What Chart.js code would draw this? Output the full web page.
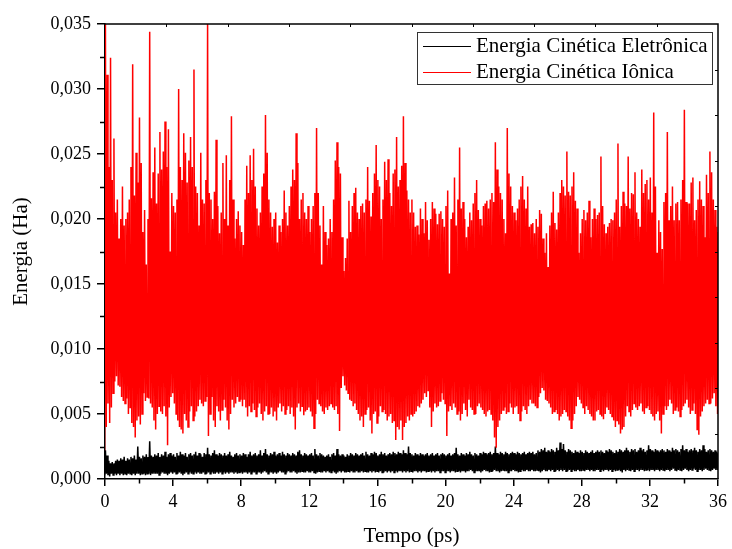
<!DOCTYPE html>
<html><head><meta charset="utf-8">
<script src="https://cdn.jsdelivr.net/npm/chart.js@4.4.0/dist/chart.umd.min.js"></script>
<style>html,body{margin:0;padding:0;background:#fff;}#wrap{width:732px;height:549px;position:relative;}</style>
</head><body><div id="wrap"><canvas id="c" width="732" height="549"></canvas></div>
<script>
// ---------------- data ----------------
const seriesLabels = ['Energia Cinética Eletrônica', 'Energia Cinética Iônica'];
const xTickLabels = [0, 4, 8, 12, 16, 20, 24, 28, 32, 36];
const yTickLabels = [0, 0.005, 0.010, 0.015, 0.020, 0.025, 0.030, 0.035];
const timeStep = 0.1;     // ps between envelope samples (t = 0 ... 36 ps)
const valueUnit = 1e-4;   // arrays below are in units of 1e-4 Ha

// Energia Cinética Iônica – upper and lower envelope of the fast oscillation
const ionicHigh = [
350,311,240,324,230,262,205,215,185,200,
225,195,200,205,215,240,319,218,251,228,
278,243,190,207,165,200,344,216,236,255,
212,235,267,238,252,275,240,269,175,220,
210,205,215,300,240,230,266,251,228,245,
263,240,315,225,220,195,251,215,212,230,
350,220,215,200,221,261,210,189,205,243,
200,249,195,230,279,215,185,200,206,195,
190,180,215,241,220,249,230,254,225,208,
195,205,225,235,280,251,215,205,194,200,
205,182,195,190,200,222,205,195,210,225,
238,230,266,243,200,215,220,205,200,210,
190,200,210,220,270,220,195,165,210,190,
180,185,200,190,215,245,259,240,235,186,
160,170,185,214,190,210,220,224,205,200,
210,212,205,215,240,214,202,220,235,257,
230,225,200,215,244,230,246,220,210,235,
238,263,225,230,241,279,243,222,215,205,
215,205,194,195,188,208,200,189,213,199,
184,200,213,208,204,196,204,206,200,194,
210,222,158,200,205,232,195,215,255,208,
213,200,186,194,205,199,212,220,230,207,
200,195,210,212,214,208,215,220,213,259,
238,225,220,215,200,189,270,235,225,210,
205,199,208,215,225,233,215,208,225,194,
196,197,189,200,194,207,204,185,174,189,
163,195,205,221,197,192,205,220,230,225,
218,252,221,218,225,236,214,208,174,189,
200,207,199,205,214,186,200,208,200,203,
205,248,210,196,189,194,197,200,199,205,
215,258,194,210,221,212,210,248,208,220,
219,236,205,200,194,238,220,227,230,215,
232,205,282,225,174,199,190,177,213,220,
267,199,210,225,199,212,213,199,215,230,
284,213,212,212,228,232,199,207,215,229,
215,210,186,234,220,252,236,215,207,194,
190];
const ionicLow = [
22,40,58,43,55,66,75,79,72,71,
63,60,58,62,50,55,43,40,32,45,
48,42,50,66,60,63,62,58,55,45,
38,50,56,52,50,56,48,26,55,63,
66,58,50,45,40,38,35,50,45,40,
52,56,45,48,52,56,61,58,56,60,
63,33,50,63,45,40,56,52,45,53,
61,55,45,38,50,61,55,58,63,60,
61,56,61,55,48,56,52,58,53,48,
55,58,50,45,52,56,50,50,55,48,
52,45,55,58,52,56,50,53,56,50,
55,48,38,55,58,52,56,49,52,53,
55,52,48,39,50,61,58,56,52,50,
55,53,56,58,55,53,56,50,37,70,
79,72,68,66,61,60,56,58,53,50,
45,48,40,50,53,55,45,35,50,52,
43,48,56,52,53,50,45,48,50,43,
45,30,40,38,45,30,40,43,48,45,
50,48,50,52,56,55,58,61,66,63,
68,55,40,52,58,55,56,60,66,61,
58,33,52,56,53,58,55,50,52,45,
50,58,53,48,61,55,53,50,50,56,
58,55,53,50,48,52,53,50,45,32,
24,40,45,50,53,55,50,52,58,55,
50,55,56,50,45,52,56,53,50,56,
61,58,58,56,55,63,66,70,68,61,
60,58,55,50,52,53,50,45,48,50,
53,52,48,45,39,45,50,56,63,61,
58,55,50,56,53,50,48,45,45,52,
53,50,48,46,50,55,53,50,48,45,
40,45,42,35,38,40,48,56,52,48,
53,58,55,53,56,58,52,50,55,56,
53,50,48,45,50,52,45,35,50,56,
53,56,61,58,50,53,55,52,48,53,
56,58,61,55,50,53,58,50,38,34,
48,52,56,58,61,58,58,62,66,56,
50];
// Energia Cinética Eletrônica – upper and lower envelope
const electronicHigh = [
22,18,14,12,13,12,14,15,14,16,
15,17,14,16,15,17,16,18,15,25,
17,16,18,17,19,17,29,18,17,19,
18,20,17,19,18,21,17,19,20,18,
19,17,20,18,21,19,18,20,17,19,
20,18,19,21,18,20,19,17,20,19,
24,19,18,20,22,19,18,20,19,18,
20,18,19,21,18,17,19,20,18,19,
18,20,19,17,19,21,18,19,20,18,
19,22,18,20,23,19,18,20,19,21,
18,19,20,18,21,19,18,20,19,18,
20,19,18,21,22,19,18,20,19,18,
19,20,18,23,19,18,20,19,18,17,
18,19,17,19,20,18,23,19,18,19,
18,17,19,18,20,19,18,20,19,18,
19,20,18,21,19,18,20,19,21,20,
18,19,21,19,20,18,19,20,19,21,
20,19,21,20,19,22,20,19,25,20,
19,18,20,19,18,20,19,18,19,20,
18,19,20,18,19,20,18,19,20,19,
18,19,20,18,19,20,24,19,18,20,
19,18,20,19,21,19,18,20,19,18,
20,19,21,20,19,20,21,19,20,25,
20,19,21,20,19,21,20,19,20,21,
20,19,21,20,19,20,21,19,20,21,
20,21,19,20,22,21,23,22,24,21,
22,21,23,22,21,24,22,28,23,27,
22,21,23,22,21,20,22,21,20,22,
21,20,22,21,20,21,22,20,21,22,
21,22,21,20,22,21,23,22,21,20,
22,21,23,22,21,22,24,22,21,23,
22,23,21,22,24,22,23,21,22,26,
23,22,21,23,22,21,22,23,22,21,
23,22,21,24,22,23,22,21,23,26,
22,23,21,22,23,22,24,22,21,23,
22,26,23,21,22,23,22,21,22,21,
20];
const electronicLow = [
3,4,3,2,4,3,4,3,4,3,
4,3,4,3,4,4,3,4,3,4,
4,3,4,4,3,4,4,3,4,4,
4,4,3,4,5,4,4,3,4,5,
4,5,4,4,5,4,3,4,5,4,
5,4,4,5,4,5,4,4,5,4,
4,5,4,5,4,4,5,4,5,4,
5,4,5,4,5,5,4,5,4,5,
5,4,5,5,4,5,4,5,5,4,
5,5,4,5,6,5,4,5,5,4,
5,4,5,6,5,5,4,5,6,5,
5,6,5,4,5,5,6,5,5,6,
5,5,6,5,4,5,6,5,5,6,
5,6,5,5,6,5,4,5,6,5,
6,5,5,6,5,6,5,5,6,5,
5,6,5,6,5,5,6,5,6,5,
6,5,6,5,5,6,5,6,5,6,
5,6,5,6,6,5,6,5,6,5,
6,5,6,6,5,6,5,6,6,5,
6,6,5,6,5,6,6,5,6,6,
5,6,6,5,6,6,5,6,6,5,
6,6,5,6,6,7,6,5,6,6,
6,5,6,7,6,6,5,6,6,7,
6,6,5,6,7,6,6,5,6,6,
7,6,6,5,6,7,6,6,7,6,
6,7,6,6,7,6,5,6,7,6,
6,7,6,7,6,6,7,6,7,6,
7,6,6,7,6,7,6,6,7,6,
6,7,6,7,7,6,7,6,6,7,
7,6,7,6,7,7,6,7,6,7,
6,7,7,6,5,7,6,7,7,6,
7,6,7,7,6,7,7,6,7,7,
6,7,7,6,7,7,6,7,7,6,
7,7,6,7,8,7,6,7,7,6,
7,8,7,6,7,7,8,7,6,7,
7,6,7,8,7,7,6,7,8,7,
7];

// ---------------- build point lists (low/high alternate around each sample time) ----------------
function envelopePoints(high, low) {
  const pts = [];
  for (let i = 0; i < high.length; i++) {
    const t = i * timeStep;
    pts.push({x: t - timeStep / 4, y: low[i] * valueUnit});
    pts.push({x: t + timeStep / 4, y: high[i] * valueUnit});
  }
  return pts;
}

const FONT = "'Liberation Serif', 'Times New Roman', serif";

const frameAndTicks = {
  id: 'frameAndTicks',
  afterDraw(chart) {
    const {ctx, chartArea: a, scales: {x, y}} = chart;
    ctx.save();
    ctx.strokeStyle = '#000';
    ctx.lineWidth = 1.5;
    ctx.beginPath();
    // top and right frame
    ctx.moveTo(a.left, a.top); ctx.lineTo(a.right, a.top); ctx.lineTo(a.right, a.bottom);
    // minor ticks (outward) on bottom and left axes
    for (let i = 0; i < xTickLabels.length - 1; i++) {
      const px = Math.round(x.getPixelForValue((xTickLabels[i] + xTickLabels[i + 1]) / 2)) + 0.5;
      ctx.moveTo(px, a.bottom); ctx.lineTo(px, a.bottom + 4.5);
    }
    for (let i = 0; i < yTickLabels.length - 1; i++) {
      const py = Math.round(y.getPixelForValue((yTickLabels[i] + yTickLabels[i + 1]) / 2)) + 0.5;
      ctx.moveTo(a.left, py); ctx.lineTo(a.left - 5, py);
    }
    ctx.stroke();
    // top and right axes: 10 divisions, short inward ticks, no labels
    ctx.lineWidth = 1;
    ctx.beginPath();
    for (let k = 1; k < 10; k++) {
      const px = Math.round(a.left + (a.right - a.left) * k / 10) + 0.5;
      ctx.moveTo(px, a.top); ctx.lineTo(px, a.top + 3);
      const py = Math.round(a.top + (a.bottom - a.top) * k / 10) + 0.5;
      ctx.moveTo(a.right, py); ctx.lineTo(a.right - 3, py);
    }
    ctx.stroke();
    ctx.restore();
  }
};

const boxLegend = {
  id: 'boxLegend',
  afterDraw(chart) {
    const {ctx} = chart;
    const ds = chart.data.datasets;
    const bx = 417.5, by = 32.5, bw = 295, bh = 52;
    ctx.save();
    ctx.fillStyle = '#fff';
    ctx.fillRect(bx, by, bw, bh);
    ctx.strokeStyle = '#333';
    ctx.lineWidth = 1;
    ctx.strokeRect(bx, by, bw, bh);
    ctx.font = '21px ' + FONT;
    ctx.textBaseline = 'middle';
    ctx.textAlign = 'left';
    ds.forEach((d, i) => {
      const yy = by + 13 + i * 26;
      ctx.strokeStyle = d.borderColor;
      ctx.lineWidth = 1;
      ctx.beginPath(); ctx.moveTo(423, Math.round(yy) + 0.5); ctx.lineTo(471, Math.round(yy) + 0.5); ctx.stroke();
      ctx.fillStyle = '#000';
      ctx.fillText(d.label, 476, yy + 1);
    });
    ctx.restore();
  }
};

new Chart(document.getElementById('c'), {
  type: 'line',
  data: {
    datasets: [
      {label: seriesLabels[0], data: envelopePoints(electronicHigh, electronicLow), borderColor: '#000000', borderWidth: 1.5, pointRadius: 0, order: 1},
      {label: seriesLabels[1], data: envelopePoints(ionicHigh, ionicLow), borderColor: '#ff0000', borderWidth: 1.5, pointRadius: 0, order: 0}
    ]
  },
  options: {
    responsive: false,
    animation: false,
    parsing: false,
    normalized: true,
    devicePixelRatio: 1,
    layout: {padding: {left: 0, right: 13, top: 24, bottom: 0}},
    plugins: {legend: {display: false}, tooltip: {enabled: false}},
    scales: {
      x: {
        type: 'linear', min: 0, max: 36,
        afterFit: s => { s.height = 70; },
        afterBuildTicks: s => { s.ticks = xTickLabels.map(v => ({value: v})); },
        ticks: {color: '#000', font: {family: FONT, size: 18}, padding: 5, maxRotation: 0, callback: v => String(v)},
        grid: {drawOnChartArea: false, color: '#000', lineWidth: 1.5, tickLength: 7},
        border: {color: '#000', width: 1.5},
        title: {display: true, text: 'Tempo (ps)', color: '#000', font: {family: FONT, size: 21}, padding: {top: 0, bottom: 0}}
      },
      y: {
        min: 0, max: 0.035,
        afterFit: s => { s.width = 105; },
        afterBuildTicks: s => { s.ticks = yTickLabels.map(v => ({value: v})); },
        ticks: {color: '#000', font: {family: FONT, size: 18}, padding: 6, callback: v => v.toFixed(3).replace('.', ',')},
        grid: {drawOnChartArea: false, color: '#000', lineWidth: 1.5, tickLength: 8},
        border: {color: '#000', width: 1.5},
        title: {display: true, text: 'Energia (Ha)', color: '#000', font: {family: FONT, size: 21}, padding: {top: 9, bottom: 0}}
      }
    }
  },
  plugins: [frameAndTicks, boxLegend]
});
</script></body></html>
